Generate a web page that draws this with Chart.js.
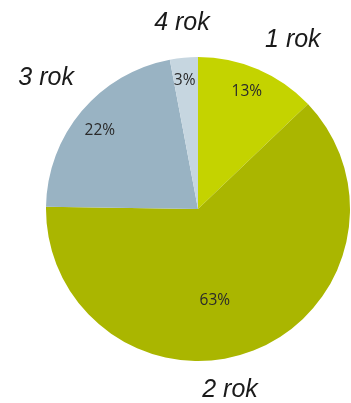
<!DOCTYPE html>
<html>
<head>
<meta charset="utf-8">
<script src="https://cdn.jsdelivr.net/npm/chart.js@4/dist/chart.umd.min.js"></script>
<style>
html,body{margin:0;padding:0;background:#fff;}
#wrap{width:351px;height:403px;position:relative;}
</style>
</head>
<body>
<div id="wrap"><canvas id="c" width="351" height="403"></canvas></div>
<script>
const categories = ['1 rok', '2 rok', '3 rok', '4 rok'];
const values = [13, 63, 22, 3];
const sliceColors = ['#c4d300', '#aab600', '#99b3c3', '#c6d6e0'];

// label placement (fraction of radius, angle offset in degrees)
const innerPos = [[0.84, -0.7], [0.61, 10.9], [0.83, -1.2], [0.85, -0.6]];
const outerPos = [[1.284, 5.9], [1.203, 11.3], [1.324, 0.9], [1.235, 0.45]];

const labelPlugin = {
  id: 'pieLabels',
  afterDatasetsDraw(chart) {
    const ctx = chart.ctx;
    const meta = chart.getDatasetMeta(0);
    meta.data.forEach((arc, i) => {
      const p = arc.getProps(['x', 'y', 'startAngle', 'endAngle', 'outerRadius'], true);
      const mid = (p.startAngle + p.endAngle) / 2;
      ctx.save();
      ctx.textAlign = 'center';
      ctx.textBaseline = 'middle';
      // inner percent
      let a = mid + innerPos[i][1] * Math.PI / 180;
      let r = p.outerRadius * innerPos[i][0];
      ctx.fillStyle = '#2a2a2a';
      ctx.font = '15.5px "Open Sans", sans-serif';
      ctx.fillText(values[i] + '%', p.x + Math.cos(a) * r, p.y + Math.sin(a) * r + 0.5);
      // outer category
      a = mid + outerPos[i][1] * Math.PI / 180;
      r = p.outerRadius * outerPos[i][0];
      ctx.fillStyle = '#1a1a1a';
      ctx.font = 'italic 25px "Liberation Sans", Arial, sans-serif';
      ctx.fillText(categories[i], p.x + Math.cos(a) * r, p.y + Math.sin(a) * r + 1.5);
      ctx.restore();
    });
  }
};

new Chart(document.getElementById('c'), {
  type: 'pie',
  data: {
    labels: categories,
    datasets: [{
      data: values,
      backgroundColor: sliceColors,
      borderWidth: 0
    }]
  },
  options: {
    responsive: false,
    animation: false,
    layout: { padding: { left: 46, right: 1, top: 57, bottom: 42 } },
    plugins: {
      legend: { display: false },
      tooltip: { enabled: false }
    }
  },
  plugins: [labelPlugin]
});
</script>
</body>
</html>
